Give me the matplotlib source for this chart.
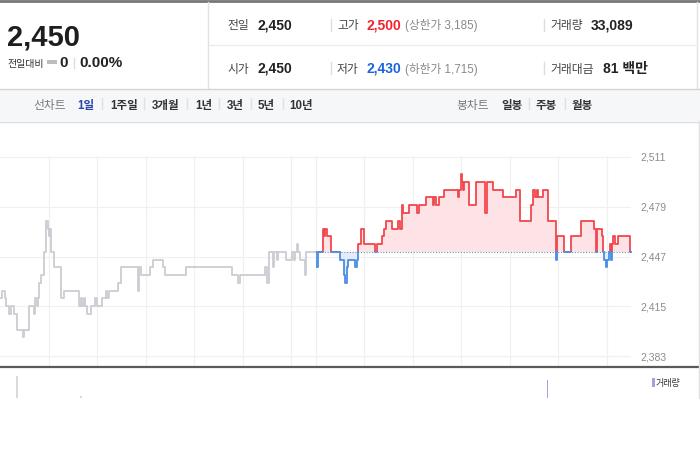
import matplotlib
matplotlib.use('Agg')
import matplotlib.pyplot as plt
from matplotlib.patches import Rectangle
from matplotlib.lines import Line2D

plt.rcParams['font.family'] = ['Liberation Sans', 'Noto Sans CJK KR']

# previous session (gray), minutes from 09:00 of the previous day
prev_t = [0, 2, 6, 8, 11.5, 13, 17, 20.6, 28, 29.7, 36, 42.4, 43.7, 45.3, 47.4, 48.6, 50.3,
          55, 56.5, 59, 60.5, 61.8, 62.6, 66.8, 75.4, 79.5, 97.6, 99.7, 101.8, 103.8, 105.5,
          108, 112, 117, 119.5, 125.7, 131, 132.7, 134.7, 146.3, 149, 170, 171.8, 174.7, 186,
          188.7, 201.5, 204, 230, 287, 294, 296.7, 327.6, 330, 332.5, 337.5, 339, 342.4,
          343.6, 353.5, 361, 363.4, 364.7, 367, 368.4, 370.8, 377, 378.2, 390]
prev_p = [2420, 2425, 2420, 2415, 2410, 2415, 2410, 2400, 2395, 2400, 2415, 2410, 2420, 2415,
          2420, 2430, 2435, 2450, 2470, 2465, 2460, 2465, 2450, 2440, 2420, 2425, 2415, 2420,
          2415, 2420, 2415, 2410, 2415, 2420, 2415, 2420, 2425, 2420, 2425, 2430, 2440, 2425,
          2440, 2435, 2440, 2445, 2440, 2435, 2440, 2435, 2430, 2435, 2440, 2430, 2450, 2440,
          2450, 2445, 2450, 2445, 2450, 2445, 2450, 2455, 2450, 2445, 2435, 2450, 2450]

# today session (390 = 09:00 today, 780 = 15:30)
today_t = [390, 391, 392.5, 399, 400.5, 402, 404, 409, 420, 425, 427, 428.5, 430.5, 439, 441,
           442, 443, 446, 450, 464, 465.6, 472, 475, 477, 485, 492, 494, 496.5, 498.5, 506,
           516, 517.5, 526.6, 535, 536.5, 539, 542.6, 549, 566, 568, 569.5, 570.7, 572.7, 574,
           579.4, 588.4, 599.5, 601.6, 609, 621.4, 638, 642.8, 656.4, 658.5, 661.3, 663.4,
           665.4, 671.6, 677.8, 687.3, 689, 697, 705.5, 718, 734, 736.7, 737.6, 743.8, 745.7,
           747, 749, 750.7, 752.4, 754, 755.3, 756.5, 758, 760, 764, 779, 780]
today_p = [2450, 2440, 2450, 2465, 2460, 2465, 2460, 2450, 2445, 2435, 2430, 2440, 2445, 2440,
           2445, 2450, 2455, 2465, 2455, 2450, 2455, 2460, 2465, 2470, 2465, 2470, 2465, 2480,
           2475, 2480, 2475, 2480, 2485, 2480, 2485, 2480, 2485, 2490, 2485, 2490, 2500, 2495,
           2490, 2495, 2480, 2495, 2475, 2495, 2490, 2485, 2490, 2470, 2480, 2490, 2485, 2490,
           2485, 2490, 2470, 2445, 2460, 2450, 2460, 2470, 2465, 2450, 2465, 2460, 2450, 2445,
           2440, 2445, 2450, 2455, 2445, 2455, 2460, 2455, 2460, 2450, 2450]

prev_close = 2450
price_ticks = [2383, 2415, 2447, 2479, 2511]
hour_lines = [60, 120, 180, 240, 300, 360, 390, 450, 510, 570, 630, 690, 750]

vol_t = [21, 100, 677]
vol_v = [2200, 200, 1800]
vol_colors = ['#d9d9d9', '#d9d9d9', '#a99ee0']

W, H = 700, 450
fig = plt.figure(figsize=(7, 4.5), dpi=100)
fig.patch.set_facecolor('white')


def fx(x):
    return x / W


def fy(y):
    return 1 - y / H


def txt(x, y, s, size=8.5, color='#333333', weight='normal', ha='left'):
    fig.text(fx(x), fy(y), s, fontsize=size, color=color, fontweight=weight,
             ha=ha, va='baseline')


def hline(y, x0, x1, color, lw=1.0):
    fig.add_artist(Line2D([fx(x0), fx(x1)], [fy(y), fy(y)], color=color, lw=lw))


def vline(x, y0, y1, color, lw=1.0):
    fig.add_artist(Line2D([fx(x), fx(x)], [fy(y0), fy(y1)], color=color, lw=lw))


# ---- header ----
hline(1, 0, 700, '#777777', 2)
vline(208, 2, 88, '#e2e2e2')
vline(697, 2, 88, '#e2e2e2')
hline(45, 209, 697, '#ececec')
hline(88.5, 0, 700, '#d4d4d4')

txt(7, 45, '2,450', size=21, color='#1e1e1e', weight='bold')
txt(7, 67, '전일대비', size=7.2, color='#333333')
fig.add_artist(Rectangle((fx(47), fy(63.5)), 10 / W, 3 / H, color='#bdbdbd', lw=0))
txt(59, 67, '0', size=11, color='#222222', weight='bold')
vline(74, 58, 68, '#dddddd')
txt(79, 67, '0.00%', size=11, color='#222222', weight='bold')

row_y = [29.5, 72.5]
for y, lab, val in zip(row_y, ['전일', '시가'], ['2,450', '2,450']):
    txt(227, y, lab, size=8.5, color='#444444')
    txt(257, y, val, size=10, color='#222222', weight='bold')
    vline(331, y - 11, y + 1, '#dddddd')
    vline(544, y - 11, y + 1, '#dddddd')
txt(337, row_y[0], '고가', size=8.5, color='#444444')
txt(367, row_y[0], '2,500', size=10, color='#f3232b', weight='bold')
txt(405, row_y[0], '(상한가 3,185)', size=8.4, color='#8a8a8a')
txt(337, row_y[1], '저가', size=8.5, color='#444444')
txt(367, row_y[1], '2,430', size=10, color='#1b64da', weight='bold')
txt(405, row_y[1], '(하한가 1,715)', size=8.4, color='#8a8a8a')
txt(550, row_y[0], '거래량', size=8.5, color='#444444')
txt(591, row_y[0], '33,089', size=10, color='#222222', weight='bold')
txt(550, row_y[1], '거래대금', size=8.5, color='#444444')
txt(603, row_y[1], '81 백만', size=10, color='#222222', weight='bold')

# ---- period menu ----
fig.add_artist(Rectangle((0, fy(121)), 1, 32 / H, color='#f6f7f9', lw=0))
hline(121.5, 0, 700, '#dcdcdc')
menu_y = 108.5
txt(33, menu_y, '선차트', size=8.5, color='#7a7a7a')
line_items = [(77, '1일'), (110, '1주일'), (152, '3개월'), (195, '1년'),
              (227, '3년'), (258, '5년'), (289, '10년')]
for i, (x, s) in enumerate(line_items):
    txt(x, menu_y, s, size=8.3, color='#2b46a8' if i == 0 else '#333333', weight='bold')
for x in [102, 144, 187, 219, 251, 283]:
    vline(x, 98, 109, '#e0e0e0')
txt(456, menu_y, '봉차트', size=8.5, color='#7a7a7a')
for x, s in [(501, '일봉'), (536, '주봉'), (572, '월봉')]:
    txt(x, menu_y, s, size=8.3, color='#333333', weight='bold')
for x in [529, 565]:
    vline(x, 98, 109, '#e0e0e0')

# ---- price chart ----
px_per_won = 199 / 128
ax = fig.add_axes([0, fy(366), 631 / W, (366 - 156) / H])
ax.set_xlim(0, 780)
ax.set_ylim(2383 - 10 / px_per_won, 2511 + 1 / px_per_won)
ax.set_xticks(hour_lines)
ax.set_yticks(price_ticks)
ax.set_yticklabels([f'{v:,}' for v in price_ticks])
ax.yaxis.tick_right()
ax.tick_params(length=0, labelbottom=False, labelright=True, pad=7,
               labelsize=7.5, labelcolor='#8c8c8c')
ax.grid(color='#f0f0f0', lw=0.9)
ax.set_axisbelow(True)
for s in ax.spines.values():
    s.set_visible(False)

ax.plot(prev_t, prev_p, drawstyle='steps-post', color='#cbcdd2', lw=1.3, zorder=3)


def clip_box(up):
    if up:
        r = Rectangle((390, prev_close), 400, 200, transform=ax.transData)
    else:
        r = Rectangle((390, prev_close - 200), 400, 200.3, transform=ax.transData)
    return r


red_fill = ax.fill_between(today_t, today_p, prev_close, step='post', color='#fde3e6', lw=0, zorder=1)
red_fill.set_clip_path(clip_box(True))
blue_fill = ax.fill_between(today_t, today_p, prev_close, step='post', color='#e4edfb', lw=0, zorder=1)
blue_fill.set_clip_path(clip_box(False))
ax.hlines(prev_close, 390, 780, colors='#8a8a8a', linestyles=(0, (1, 1.5)), lw=0.8, zorder=2)
red_line, = ax.plot(today_t, today_p, drawstyle='steps-post', color='#f2474c', lw=1.3, zorder=3)
red_line.set_clip_path(clip_box(True))
blue_line, = ax.plot(today_t, today_p, drawstyle='steps-post', color='#4a8de2', lw=1.3, zorder=4)
blue_line.set_clip_path(clip_box(False))

hline(367, 0, 700, '#5a5a5a', 1.6)

# ---- volume ----
vax = fig.add_axes([0, fy(398), 631 / W, 30 / H])
vax.bar(vol_t, vol_v, width=1.5, color=vol_colors)
vax.set_xlim(0, 780)
vax.set_ylim(0, 3000)
vax.axis('off')
fig.add_artist(Rectangle((fx(652), fy(387)), 2.5 / W, 9 / H, color='#a99ee0', lw=0))
txt(656, 386, '거래량', size=6.5, color='#333333')
vline(698.5, 121, 398, '#e0e0e0')

fig.savefig('out.png', dpi=100)
